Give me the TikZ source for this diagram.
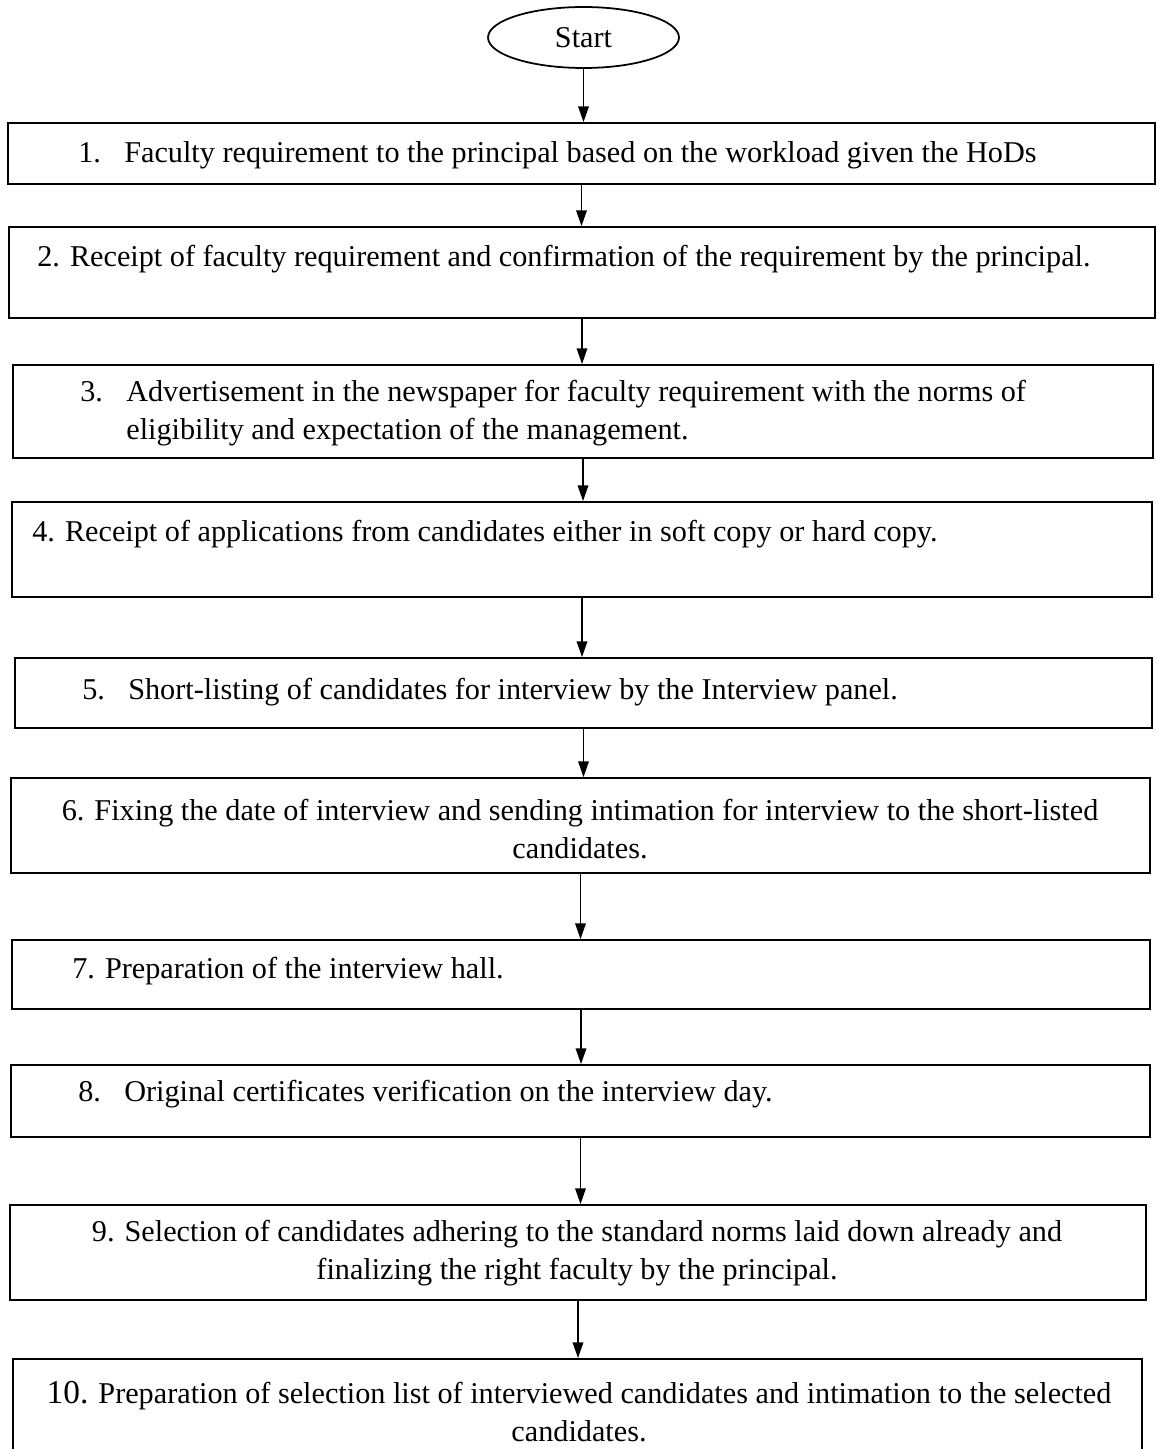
\documentclass[tikz,border=0pt]{standalone}
\usepackage{fontspec}
\setmainfont{Liberation Serif}
\usetikzlibrary{shapes.geometric, arrows.meta, fit}

\tikzset{
  stepbox/.style={draw, rectangle, inner sep=0pt, line width=1pt},
  steptext/.style={inner sep=0pt, font=\fontsize{17.2}{21.6}\selectfont},
  flowline/.style={-{Triangle[length=9pt, width=6pt]}, line width=1pt}
}
\newcommand{\stepno}[1]{\makebox[0.92cm][l]{#1}}

\begin{document}
\begin{tikzpicture}[x=0.02cm, y=-0.02cm]
\useasboundingbox (0,0) rectangle (1156,1449);

% Start terminal
\node[draw, ellipse, line width=1pt, minimum width=3.82cm, minimum height=1.22cm, inner sep=0pt, font=\fontsize{17.2}{21.6}\selectfont] (start) at (583.5,37.5) {Start};

% Process boxes
\node[stepbox, fit={(8,123) (1155,184)}] (b1) {};
\node[stepbox, fit={(9,227) (1155,318)}] (b2) {};
\node[stepbox, fit={(13,365) (1153,458)}] (b3) {};
\node[stepbox, fit={(12,502) (1152,597)}] (b4) {};
\node[stepbox, fit={(15,658) (1152,728)}] (b5) {};
\node[stepbox, fit={(11,778) (1150,873)}] (b6) {};
\node[stepbox, fit={(12,940) (1150,1009)}] (b7) {};
\node[stepbox, fit={(11,1065) (1150,1137)}] (b8) {};
\node[stepbox, fit={(10,1205) (1146,1300)}] (b9) {};
\node[stepbox, fit={(13,1359) (1142,1470)}] (b10) {};

% Box texts
\node[steptext, anchor=west] (t1) at (78,155) {\stepno{1.}Faculty requirement to the principal based on the workload given the HoDs};
\node[steptext, anchor=west] (t2) at (37,259) {2. Receipt of faculty requirement and confirmation of the requirement by the principal.};
\node[steptext, anchor=west, align=left] (t3) at (80,413) {\stepno{3.}Advertisement in the newspaper for faculty requirement with the norms of\\
  \hspace*{0.92cm}eligibility and expectation of the management.};
\node[steptext, anchor=west] (t4) at (32,534) {4. Receipt of applications from candidates either in soft copy or hard copy.};
\node[steptext, anchor=west] (t5) at (82,692) {\stepno{5.}Short-listing of candidates for interview by the Interview panel.};
\node[steptext, align=center] (t6) at (580,829) {6. Fixing the date of interview and sending intimation for interview to the short-listed\\
  candidates.};
\node[steptext, anchor=west] (t7) at (72,971) {7. Preparation of the interview hall.};
\node[steptext, anchor=west] (t8) at (78,1094) {\stepno{8.}Original certificates verification on the interview day.};
\node[steptext, align=center] (t9) at (577,1253) {9. Selection of candidates adhering to the standard norms laid down already and\\
  finalizing the right faculty by the principal.};
\node[steptext, align=center] (t10) at (579,1412) {{\fontsize{19}{21.6}\selectfont 10.} Preparation of selection list of interviewed candidates and intimation to the selected\\
  candidates.};

% Connectors
\draw[flowline] (start.south) -- (start.south |- b1.north);
\draw[flowline] (b1.south) -- (b1.south |- b2.north);
\draw[flowline] (b2.south) -- (b2.south |- b3.north);
\draw[flowline] (b3.south) -- (b3.south |- b4.north);
\draw[flowline] (b4.south) -- (b4.south |- b5.north);
\draw[flowline] (b5.south) -- (b5.south |- b6.north);
\draw[flowline] (b6.south) -- (b6.south |- b7.north);
\draw[flowline] (b7.south) -- (b7.south |- b8.north);
\draw[flowline] (b8.south) -- (b8.south |- b9.north);
\draw[flowline] (b9.south) -- (b9.south |- b10.north);
\end{tikzpicture}
\end{document}
